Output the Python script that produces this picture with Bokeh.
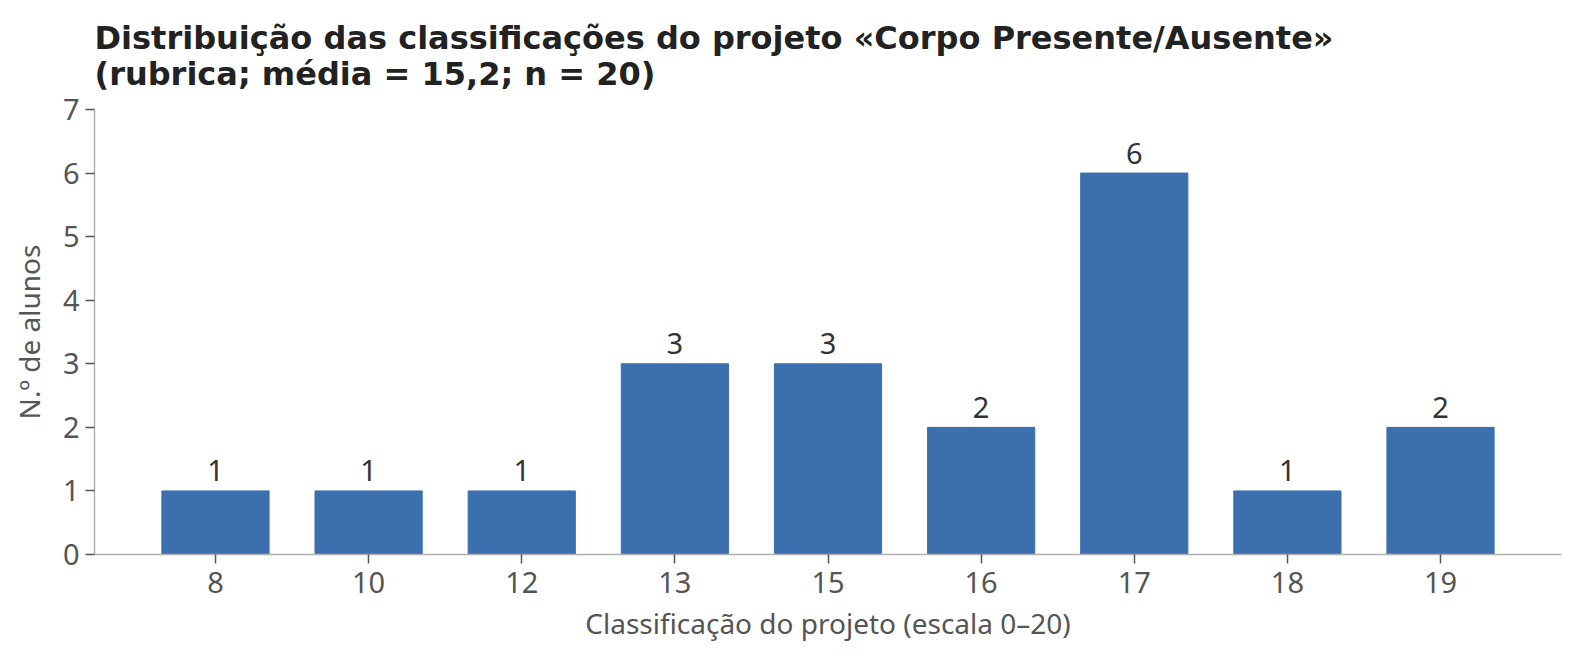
from bokeh.plotting import figure
from bokeh.models import FactorRange, Range1d, FixedTicker, Title, ColumnDataSource
from bokeh.core.properties import value
from bokeh.embed import file_html
from bokeh.resources import INLINE

grades = ["8", "10", "12", "13", "15", "16", "17", "18", "19"]
counts = [1, 1, 1, 3, 3, 2, 6, 1, 2]
y_ticks = [0, 1, 2, 3, 4, 5, 6, 7]

title_line1 = "Distribuição das classificações do projeto «Corpo Presente/Ausente»"
title_line2 = "(rubrica; média = 15,2; n = 20)"
x_label = "Classificação do projeto (escala 0–20)"
y_label = "N.º de alunos"

BAR = "#3c6fae"
TICK_FONT = "Noto Sans"

src = ColumnDataSource(dict(x=grades, top=counts, lab=[str(c) for c in counts]))

p = figure(
    width=1564, height=644,
    x_range=FactorRange(factors=grades, range_padding=0.29, range_padding_units="absolute"),
    y_range=Range1d(0, 7),
    output_backend="svg", toolbar_location=None,
    min_border_left=94, min_border_right=3, min_border_top=13, min_border_bottom=10,
)
p.title = Title(text=title_line1 + "\n" + title_line2, text_font="DejaVu Sans",
                text_font_style="bold", text_font_size="32px", text_color="#222222",
                align="left", offset=0, standoff=33, text_line_height=0.95)

p.vbar(x="x", top="top", width=0.7, source=src, fill_color=BAR, line_color=BAR)
p.text(x="x", y="top", text="lab", source=src, text_align="center", text_baseline="alphabetic",
       y_offset=-20, text_font=value(TICK_FONT), text_font_size="29px", text_color="#333333")

p.outline_line_color = None
p.xgrid.grid_line_color = None
p.ygrid.grid_line_color = None
p.yaxis.ticker = FixedTicker(ticks=y_ticks)

for ax in (p.xaxis[0], p.yaxis[0]):
    ax.axis_line_color = "#b0b0b0"
    ax.axis_line_width = 1.5
    ax.major_tick_line_color = "#555555"
    ax.major_tick_line_width = 1.5
    ax.major_tick_in = 0
    ax.major_tick_out = 9
    ax.minor_tick_line_color = None
    ax.major_label_text_font = TICK_FONT
    ax.major_label_text_font_size = "29px"
    ax.major_label_text_color = "#555555"
    ax.axis_label_text_font = TICK_FONT
    ax.axis_label_text_font_size = "28px"
    ax.axis_label_text_font_style = "normal"
    ax.axis_label_text_color = "#555555"

p.xaxis.axis_label = x_label
p.yaxis.axis_label = y_label
p.xaxis.major_label_standoff = 8
p.yaxis.major_label_standoff = 6
p.xaxis.axis_label_standoff = 8
p.yaxis.axis_label_standoff = 12

open("out.html", "w").write(file_html(p, INLINE))
